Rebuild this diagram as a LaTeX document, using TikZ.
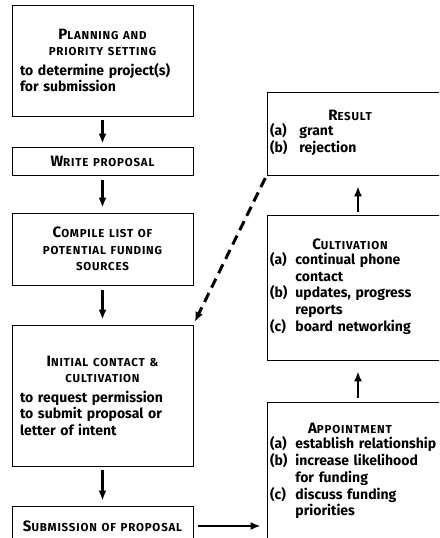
\documentclass[tikz,border=0pt]{standalone}
\usepackage{fontspec}
\setmainfont{Fira Sans}
\usetikzlibrary{arrows.meta}

\tikzset{
  box/.style={draw, line width=0.8pt, inner xsep=8pt, inner ysep=4pt,
    text width=165pt, align=left, font=\bfseries\fontsize{14}{16.5}\selectfont},
  rbox/.style={box, inner xsep=3pt, text width=176pt},
  arr/.style={-{Latex[length=10pt,width=8pt]}, line width=2.4pt},
  dasharr/.style={arr, line width=3pt, dash pattern=on 10pt off 6pt}
}
\newcommand{\ttl}[2]{{\fontsize{15}{18}\selectfont #1}{\fontsize{11.5}{18}\selectfont\addfontfeature{LetterSpace=7}\MakeUppercase{#2}}}
\newcommand{\sml}[1]{{\fontsize{11.5}{18}\selectfont\addfontfeature{LetterSpace=7}\MakeUppercase{#1}}}

\begin{document}
\begin{tikzpicture}[x=1pt,y=-1pt]
  \useasboundingbox (0,0) rectangle (439,538);
  \clip (0,0) rectangle (439,538);

  % Left column
  \node[box, minimum height=111pt] (plan) at (102.5,60.5)
    {{\centering\ttl{P}{lanning and}\\ \sml{priority setting}\par}\vspace{3pt}
     to determine project(s)\\ for submission};
  \node[box, minimum height=28pt] (write) at (102.5,161)
    {{\centering\ttl{W}{rite proposal}\par}};
  \node[box, minimum height=72pt] (compile) at (102.5,249)
    {{\centering\ttl{C}{ompile list of}\\ \sml{potential funding}\\ \sml{sources}\par}};
  \node[box, minimum height=141pt] (contact) at (102.5,395.5)
    {{\centering\ttl{I}{nitial contact \&}\\ \sml{cultivation}\par}\vspace{3pt}
     to request permission\\ to submit proposal or\\ letter of intent};
  \node[box, minimum height=40pt] (submit) at (102.5,526)
    {{\centering\ttl{S}{ubmission of proposal}\par}};

  % Right column
  \node[rbox, minimum height=83pt] (result) at (358,133.5)
    {\makebox[160pt]{\ttl{R}{esult}}\par\vspace{2pt}
     \begin{tabular}{@{}l@{\hspace{12pt}}l@{}}
       (a) & grant\\
       (b) & rejection
     \end{tabular}};
  \node[rbox, minimum height=145pt] (cult) at (358,287.5)
    {\makebox[160pt]{\ttl{C}{ultivation}}\par\vspace{2pt}
     \begin{tabular}{@{}l@{\hspace{8pt}}l@{}}
       (a) & continual phone\\
           & contact\\
       (b) & updates, progress\\
           & reports\\
       (c) & board networking
     \end{tabular}};
  \node[rbox, minimum height=140pt] (appt) at (358,472)
    {\makebox[160pt]{\ttl{A}{ppointment}}\par\vspace{2pt}
     \begin{tabular}{@{}l@{\hspace{8pt}}l@{}}
       (a) & establish relationship\\
       (b) & increase likelihood\\
           & for funding\\
       (c) & discuss funding\\
           & priorities
     \end{tabular}};

  % Arrows
  \draw[arr, shorten <=4pt, shorten >=3pt] (plan) -- (write);
  \draw[arr, shorten <=5pt, shorten >=5pt] (write) -- (compile);
  \draw[arr, shorten <=5pt, shorten >=5pt] (compile) -- (contact);
  \draw[arr, shorten <=4pt, shorten >=5pt] (contact) -- (submit);
  \draw[arr, shorten <=5pt, shorten >=6pt] (submit.east) -- (submit.east -| appt.west);
  \draw[arr, line width=1.8pt, shorten <=3pt, shorten >=11pt] (cult) -- (result);
  \draw[arr, line width=1.8pt, shorten <=4pt, shorten >=11pt] (appt) -- (cult);
  \draw[dasharr, shorten <=3pt, shorten >=3pt] (result.south west) -- (contact.north east);
\end{tikzpicture}
\end{document}
